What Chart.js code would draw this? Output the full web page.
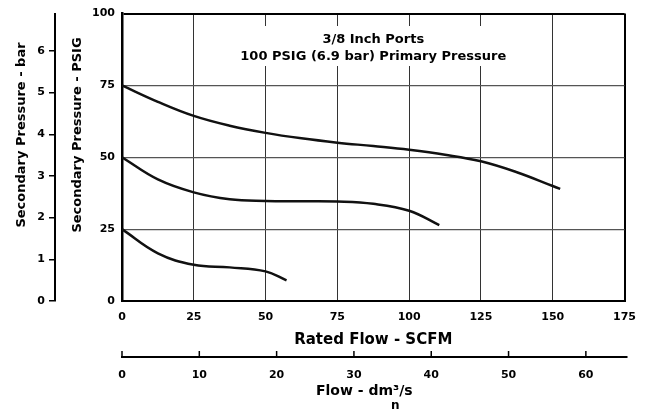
<!DOCTYPE html>
<html>
<head>
<meta charset="utf-8">
<script src="https://cdn.jsdelivr.net/npm/chart.js@4.4.1/dist/chart.umd.min.js"></script>
<style>
  html, body { margin: 0; padding: 0; background: #fff; }
  #wrap { width: 646px; height: 412px; }
</style>
</head>
<body>
<div id="wrap"><canvas id="myChart" width="646" height="412"></canvas></div>
<script>
// rated flow (SCFM) vs secondary pressure (PSIG), one curve per set pressure
const flowHigh = [0, 12.5, 25, 37.5, 50, 62.5, 75, 87.5, 100, 112.5, 125, 137.5, 150, 152.6];
const psigHigh = [75, 69.3, 64.4, 61, 58.5, 56.6, 55.1, 53.9, 52.6, 50.9, 48.6, 44.8, 40, 39];
const flowMid = [0, 12.5, 25, 37.5, 50, 62.5, 75, 87.5, 100, 110.5];
const psigMid = [50, 42.3, 37.8, 35.4, 34.8, 34.7, 34.6, 33.8, 31.4, 26.4];
const flowLow = [0, 12.5, 25, 37.5, 50, 57.3];
const psigLow = [25, 16.6, 12.6, 11.7, 10.3, 7.2];

const psigTicks = [0, 25, 50, 75, 100];
const barTicks = [0, 1, 2, 3, 4, 5, 6];
const scfmTicks = [0, 25, 50, 75, 100, 125, 150, 175];
const dm3Ticks = [0, 10, 20, 30, 40, 50, 60];
const dm3Max = 65;

const subtitle1 = '3/8 Inch Ports';
const subtitle2 = '100 PSIG (6.9 bar) Primary Pressure';
const psigTitle = 'Secondary Pressure - PSIG';
const barTitle = 'Secondary Pressure - bar';
const flowTitle = 'Flow - dm\u00B3/s';

const PSI_PER_BAR = 14.5038;
const FONT = '"DejaVu Sans", sans-serif';

Chart.defaults.font.family = FONT;
Chart.defaults.font.weight = 'bold';
Chart.defaults.color = '#000';

const toPoints = (xs, ys) => xs.map((x, i) => ({x: x, y: ys[i]}));
const setTicks = (vals) => (scale) => { scale.ticks = vals.map(v => ({value: v})); };

const curve = (xs, ys) => ({
    data: toPoints(xs, ys),
    borderColor: '#111',
    borderWidth: 2.5,
    pointRadius: 0,
    fill: false,
    tension: 0.4
});

const chartText = {
    id: 'chartText',
    beforeDatasetsDraw(chart) {
        const {ctx, chartArea} = chart;
        const cx = (chartArea.left + chartArea.right) / 2;
        ctx.save();
        ctx.fillStyle = '#fff';
        ctx.fillRect(cx - 136, 26, 272, 40);
        ctx.fillStyle = '#000';
        ctx.font = 'bold 13px ' + FONT;
        ctx.textAlign = 'center';
        ctx.textBaseline = 'alphabetic';
        ctx.fillText(subtitle1, cx, 43);
        ctx.fillText(subtitle2, cx, 60);
        ctx.restore();
    },
    afterDraw(chart) {
        const {ctx, chartArea, scales} = chart;
        ctx.save();

        // second flow axis: line with ticks pointing up
        const s = scales.x2;
        const lineY = s.top + 8;
        ctx.strokeStyle = '#000';
        ctx.lineWidth = 2;
        ctx.beginPath();
        ctx.moveTo(s.getPixelForValue(0) - 1, lineY);
        ctx.lineTo(s.getPixelForValue(dm3Max) + 3, lineY);
        ctx.stroke();
        ctx.lineWidth = 1.5;
        dm3Ticks.forEach(v => {
            const px = s.getPixelForValue(v);
            ctx.beginPath();
            ctx.moveTo(px, lineY);
            ctx.lineTo(px, lineY - 6);
            ctx.stroke();
        });

        ctx.fillStyle = '#000';
        ctx.textAlign = 'center';
        ctx.textBaseline = 'middle';
        const cx = (chartArea.left + chartArea.right) / 2;
        ctx.font = 'bold 14px ' + FONT;
        ctx.fillText(flowTitle, cx - 9, 391);
        ctx.font = 'bold 12px ' + FONT;
        ctx.fillText('n', cx + 22, 406);

        // rotated pressure titles
        ctx.font = 'bold 13px ' + FONT;
        [[scales.y.left + 23, psigTitle], [scales.yBar.left + 22, barTitle]].forEach(([tx, txt]) => {
            ctx.save();
            ctx.translate(tx, 135);
            ctx.rotate(-Math.PI / 2);
            ctx.fillText(txt, 0, 0);
            ctx.restore();
        });
        ctx.restore();
    }
};

var ctx = document.getElementById('myChart').getContext('2d');

const myChart = new Chart(ctx, {
    type: 'line',
    data: {
        datasets: [curve(flowHigh, psigHigh), curve(flowMid, psigMid), curve(flowLow, psigLow)]
    },
    options: {
        responsive: false,
        animation: false,
        layout: { padding: { top: 12, right: 16, bottom: 0, left: 0 } },
        plugins: {
            legend: { display: false },
            tooltip: { enabled: false }
        },
        scales: {
            x: {
                type: 'linear',
                position: 'bottom',
                weight: 0,
                min: 0,
                max: 175,
                afterBuildTicks: setTicks(scfmTicks),
                afterFit: (s) => { s.height = 48; },
                grid: {
                    color: (c) => (c.tick.value === 0 || c.tick.value === 175) ? '#000' : '#333',
                    lineWidth: (c) => (c.tick.value === 0 || c.tick.value === 175) ? 2 : 1,
                    drawTicks: false
                },
                border: { display: true, color: '#000', width: 2 },
                ticks: { padding: 10, maxRotation: 0, font: { size: 11, weight: 'bold' } },
                title: { display: true, text: 'Rated Flow - SCFM', padding: 0, font: { size: 15, weight: 'bold' } }
            },
            x2: {
                type: 'linear',
                position: 'bottom',
                weight: 1,
                min: 0,
                max: dm3Max,
                afterBuildTicks: setTicks(dm3Ticks),
                afterFit: (s) => { s.height = 63; },
                grid: { display: false, drawTicks: false },
                border: { display: false },
                ticks: { padding: 20, maxRotation: 0, font: { size: 11, weight: 'bold' } }
            },
            y: {
                type: 'linear',
                position: 'left',
                weight: 0,
                min: 0,
                max: 100,
                afterBuildTicks: setTicks(psigTicks),
                afterFit: (s) => { s.width = 67; },
                grid: {
                    color: (c) => (c.tick.value === 0 || c.tick.value === 100) ? '#000' : '#555',
                    lineWidth: (c) => (c.tick.value === 0 || c.tick.value === 100) ? 2 : 1.2,
                    drawTicks: false
                },
                border: { display: true, color: '#000', width: 2.5 },
                ticks: { padding: 7, font: { size: 11, weight: 'bold' } }
            },
            yBar: {
                type: 'linear',
                position: 'left',
                weight: 1,
                min: 0,
                max: 100 / PSI_PER_BAR,
                afterBuildTicks: setTicks(barTicks),
                afterFit: (s) => { s.width = 55; },
                grid: { drawOnChartArea: false, drawTicks: true, tickLength: 6, color: '#000', lineWidth: 1.5 },
                border: { display: true, color: '#000', width: 2 },
                ticks: { padding: 4, font: { size: 11, weight: 'bold' } }
            }
        }
    },
    plugins: [chartText]
});
</script>
</body>
</html>
